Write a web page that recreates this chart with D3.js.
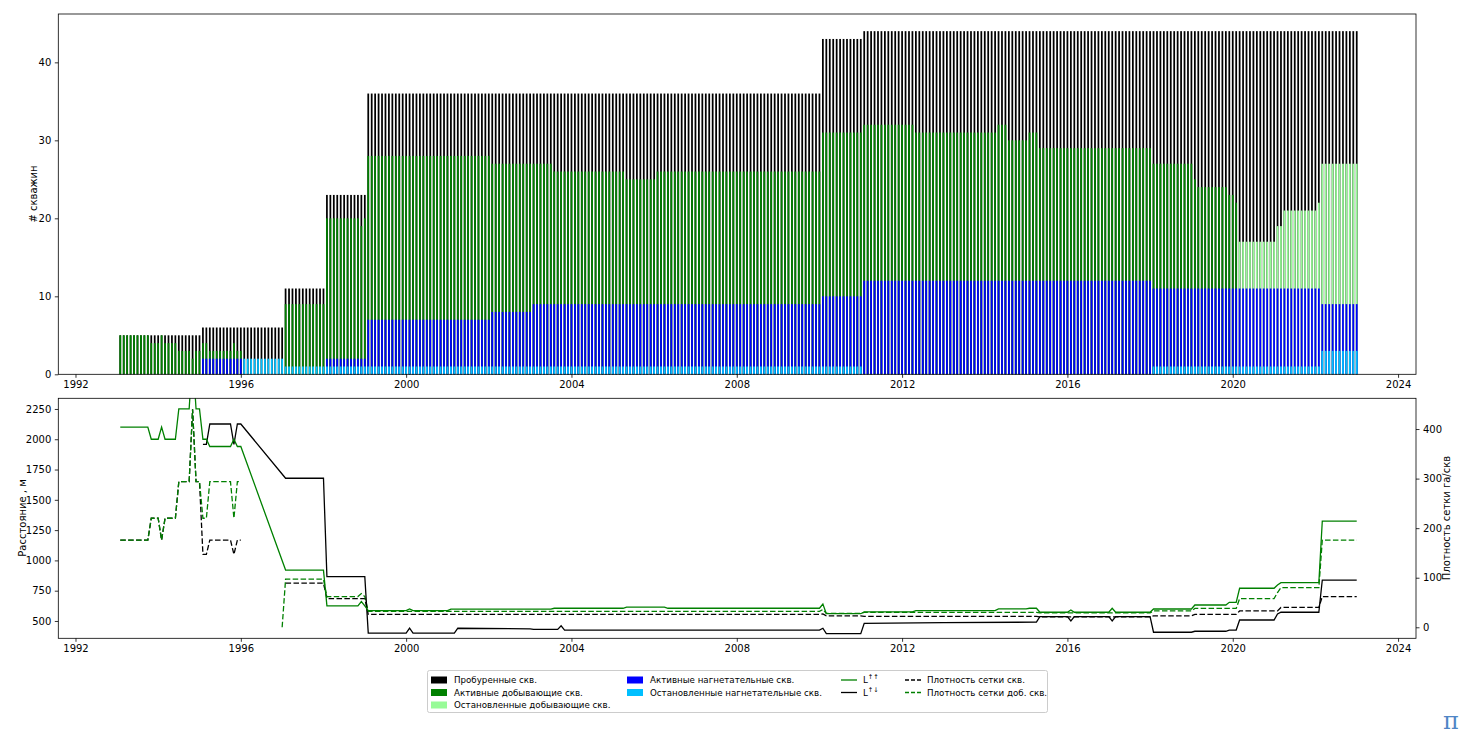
<!DOCTYPE html>
<html lang="en">
<head>
<meta charset="utf-8">
<script src="https://d3js.org/d3.v7.min.js"></script>
<style>
  body { margin: 0; background: #fff; }
  svg { font-family: "DejaVu Sans", sans-serif; }
</style>
</head>
<body>
<svg width="1468" height="743"></svg>
<script>
// ---- data: bar series as [month, value] step points (value holds until next step)
var drilled = [["1993-01", 5], ["1995-01", 6], ["1997-01", 11], ["1998-01", 23], ["1999-01", 36], ["2010-01", 43], ["2011-01", 44]];
var prodActive = [["1993-01", 5], ["1993-10", 4], ["1994-01", 5], ["1994-02", 4], ["1994-06", 3], ["1994-10", 2], ["1994-11", 3],
  ["1995-01", 4], ["1995-03", 3], ["1995-10", 4], ["1995-11", 3], ["1996-01", 0], ["1997-01", 9], ["1998-01", 20], ["1998-11", 19], ["1998-12", 20],
  ["1999-01", 28], ["2002-01", 27], ["2003-07", 26], ["2005-04", 25], ["2006-01", 26], ["2010-01", 31], ["2011-01", 32],
  ["2012-04", 31], ["2014-04", 32], ["2014-07", 30], ["2015-01", 31], ["2015-04", 29], ["2018-01", 27], ["2019-01", 25],
  ["2019-02", 24], ["2019-11", 23], ["2020-01", 22], ["2020-02", 0]];
var prodStopped = [["1993-01", 0], ["2020-02", 17], ["2021-01", 19], ["2021-03", 21], ["2022-01", 22], ["2022-02", 27]];
var injActive = [["1993-01", 0], ["1995-01", 2], ["1996-01", 0], ["1998-01", 2], ["1999-01", 7], ["2002-01", 8], ["2003-01", 9],
  ["2010-01", 10], ["2011-01", 12], ["2018-01", 11], ["2022-02", 9]];
var injStopped = [["1993-01", 0], ["1996-01", 2], ["1997-01", 1], ["2011-01", 0], ["2018-01", 1], ["2022-02", 3]];

// ---- data: lines as [month, value] vertices
var lSame = [["1993-01", 2100], ["1993-09", 2100], ["1993-10", 2000], ["1993-12", 2000], ["1994-01", 2100], ["1994-02", 2000],
  ["1994-05", 2000], ["1994-06", 2250], ["1994-09", 2250], ["1994-10", 2700], ["1994-11", 2250], ["1994-12", 2250],
  ["1995-01", 2000], ["1995-02", 2000], ["1995-03", 1940], ["1995-09", 1940], ["1995-10", 2000], ["1995-11", 1940],
  ["1995-12", 1940], ["1997-01", 920], ["1997-12", 920], ["1998-01", 625], ["1998-10", 625], ["1998-11", 660], ["1998-12", 625],
  ["1999-01", 585], ["1999-12", 585], ["2000-01", 600], ["2000-02", 585], ["2000-12", 585], ["2001-01", 598], ["2003-06", 598],
  ["2003-07", 605], ["2005-03", 605], ["2005-04", 615], ["2006-03", 615], ["2006-04", 605], ["2009-12", 605], ["2010-01", 640],
  ["2010-02", 560], ["2010-12", 560], ["2011-01", 575], ["2012-03", 575], ["2012-04", 585], ["2014-03", 585], ["2014-04", 600],
  ["2014-12", 600], ["2015-01", 605], ["2015-03", 605], ["2015-04", 572], ["2015-12", 572], ["2016-01", 590], ["2016-02", 572],
  ["2016-12", 572], ["2017-01", 605], ["2017-02", 572], ["2017-12", 572], ["2018-01", 599], ["2018-12", 599], ["2019-01", 632],
  ["2019-10", 632], ["2019-11", 654], ["2020-01", 654], ["2020-02", 770], ["2020-12", 770], ["2021-01", 797], ["2021-02", 816],
  ["2022-01", 816], ["2022-02", 1325], ["2022-12", 1325]];
var lOpp = [["1995-01", 1958], ["1995-02", 1958], ["1995-03", 2126], ["1995-09", 2126], ["1995-10", 1958], ["1995-11", 2126],
  ["1995-12", 2126], ["1997-01", 1678], ["1997-12", 1678], ["1998-01", 866], ["1998-12", 866], ["1999-01", 400], ["1999-12", 400],
  ["2000-01", 440], ["2000-02", 400], ["2001-02", 400], ["2001-03", 440], ["2002-12", 435], ["2003-01", 430], ["2003-08", 430],
  ["2003-09", 460], ["2003-10", 425], ["2009-12", 425], ["2010-01", 440], ["2010-02", 395], ["2010-12", 395], ["2011-01", 480],
  ["2012-12", 487], ["2015-03", 490], ["2015-04", 536], ["2015-12", 536], ["2016-01", 500], ["2016-02", 536], ["2016-12", 536],
  ["2017-01", 500], ["2017-02", 536], ["2017-12", 536], ["2018-01", 407], ["2018-12", 407], ["2019-01", 415], ["2019-10", 415],
  ["2019-11", 425], ["2020-01", 425], ["2020-02", 508], ["2020-12", 508], ["2021-01", 558], ["2021-02", 572], ["2022-01", 572],
  ["2022-02", 838], ["2022-12", 838]];
var densAll = [["1993-01", 176], ["1993-09", 176], ["1993-10", 220], ["1993-12", 220], ["1994-01", 176], ["1994-02", 220],
  ["1994-05", 220], ["1994-06", 294], ["1994-09", 294], ["1994-10", 440], ["1994-11", 294], ["1994-12", 294], ["1995-01", 147],
  ["1995-02", 147], ["1995-03", 176], ["1995-09", 176], ["1995-10", 147], ["1995-11", 176], ["1995-12", 176], null,
  ["1997-01", 89], ["1997-12", 89], ["1998-01", 58], ["1998-12", 58], ["1999-01", 26], ["2009-12", 26], ["2010-01", 27],
  ["2010-02", 23], ["2010-12", 23], ["2011-01", 22], ["2015-03", 22], ["2015-04", 21], ["2017-12", 21], ["2018-01", 23],
  ["2018-12", 23], ["2019-01", 26], ["2020-01", 26], ["2020-02", 33], ["2021-01", 33], ["2021-02", 40], ["2022-01", 40],
  ["2022-02", 62], ["2022-12", 62]];
var densProd = [["1993-01", 176], ["1993-09", 176], ["1993-10", 220], ["1993-12", 220], ["1994-01", 176], ["1994-02", 220],
  ["1994-05", 220], ["1994-06", 294], ["1994-09", 294], ["1994-10", 440], ["1994-11", 294], ["1994-12", 294], ["1995-01", 220],
  ["1995-02", 220], ["1995-03", 294], ["1995-09", 294], ["1995-10", 220], ["1995-11", 294], ["1995-12", 294], null,
  ["1996-12", 0], ["1997-01", 97], ["1997-12", 97], ["1998-01", 62], ["1998-10", 62], ["1998-11", 68], ["1998-12", 62],
  ["1999-01", 32], ["2009-12", 32], ["2010-01", 36], ["2010-02", 28], ["2010-12", 28], ["2011-01", 30], ["2015-03", 30],
  ["2015-04", 29], ["2017-12", 29], ["2018-01", 33], ["2018-12", 33], ["2019-01", 38], ["2020-01", 38], ["2020-02", 58],
  ["2020-12", 58], ["2021-01", 70], ["2021-02", 80], ["2022-01", 80], ["2022-02", 176], ["2022-12", 176]];

var yearTicks = [1992, 1996, 2000, 2004, 2008, 2012, 2016, 2020, 2024];
var countTicks = [0, 10, 20, 30, 40];
var distTicks = [500, 750, 1000, 1250, 1500, 1750, 2000, 2250];
var densTicks = [0, 100, 200, 300, 400];

// month "YYYY-MM" -> fractional year at month end
function mYear(s) { var p = s.split("-"); return +p[0] + (+p[1]) / 12; }

var months = [];
for (var yy = 1993; yy <= 2022; yy++) for (var mm = 1; mm <= 12; mm++) months.push(yy + "-" + (mm < 10 ? "0" : "") + mm);

function expand(steps) {
  return months.map(function(m) {
    var v = 0;
    steps.forEach(function(s) { if (mYear(s[0]) <= mYear(m) + 1e-6) v = s[1]; });
    return { m: m, v: v };
  });
}

var svg = d3.select("svg");
var L = 58.3, R = 1416;
var x = d3.scaleLinear().domain([1991.584, 2024.434]).range([L, R]);
var yTop = d3.scaleLinear().domain([0, 46.2]).range([374.3, 14]);
var yDist = d3.scaleLinear().domain([357, 2338]).range([638.3, 398.3]);
var yDens = d3.scaleLinear().domain([-22.2, 462]).range([638.3, 398.3]);

// ---- top: bars drawn over each other from zero
var barW = 1.75;
var series = [
  { data: drilled, color: "#000000" },
  { data: prodStopped, color: "#98fb98" },
  { data: prodActive, color: "#008000" },
  { data: injActive, color: "#0000ff" },
  { data: injStopped, color: "#00bfff" }
];
var gBars = svg.append("g");
series.forEach(function(s) {
  gBars.append("g").selectAll("rect")
    .data(expand(s.data).filter(function(d) { return d.v > 0; }))
    .enter().append("rect")
    .attr("x", function(d) { return x(mYear(d.m)) - barW / 2; })
    .attr("y", function(d) { return yTop(d.v); })
    .attr("width", barW)
    .attr("height", function(d) { return yTop(0) - yTop(d.v); })
    .attr("fill", s.color);
});

var fmt = d3.format("d");
svg.append("g").attr("transform", "translate(0,374.3)")
  .call(d3.axisBottom(x).tickValues(yearTicks).tickFormat(fmt).tickSize(3.5).tickPadding(3.5));
svg.append("g").attr("transform", "translate(" + L + ",0)")
  .call(d3.axisLeft(yTop).tickValues(countTicks).tickFormat(fmt).tickSize(3.5).tickPadding(3.5));
svg.append("rect").attr("x", L).attr("y", 14).attr("width", R - L).attr("height", 360.3)
  .attr("fill", "none").attr("stroke", "#000").attr("stroke-width", 0.8);

// ---- bottom: lines
svg.append("clipPath").attr("id", "clipB").append("rect")
  .attr("x", L).attr("y", 398.3).attr("width", R - L).attr("height", 240);
var gLines = svg.append("g").attr("clip-path", "url(#clipB)");
function drawLine(data, yScale, color, dashed) {
  var line = d3.line()
    .defined(function(d) { return d !== null; })
    .x(function(d) { return x(mYear(d[0])); })
    .y(function(d) { return yScale(d[1]); });
  gLines.append("path").datum(data)
    .attr("d", line)
    .attr("fill", "none")
    .attr("stroke", color)
    .attr("stroke-width", 1.3)
    .attr("stroke-dasharray", dashed ? "5.5,2.4" : null);
}
drawLine(densAll, yDens, "#000000", true);
drawLine(densProd, yDens, "#008000", true);
drawLine(lOpp, yDist, "#000000", false);
drawLine(lSame, yDist, "#008000", false);

svg.append("g").attr("transform", "translate(0,638.3)")
  .call(d3.axisBottom(x).tickValues(yearTicks).tickFormat(fmt).tickSize(3.5).tickPadding(3.5));
svg.append("g").attr("transform", "translate(" + L + ",0)")
  .call(d3.axisLeft(yDist).tickValues(distTicks).tickFormat(fmt).tickSize(3.5).tickPadding(3.5));
svg.append("g").attr("transform", "translate(" + R + ",0)")
  .call(d3.axisRight(yDens).tickValues(densTicks).tickFormat(fmt).tickSize(3.5).tickPadding(3.5));
svg.append("rect").attr("x", L).attr("y", 398.3).attr("width", R - L).attr("height", 240)
  .attr("fill", "none").attr("stroke", "#000").attr("stroke-width", 0.8);

svg.selectAll(".tick text").attr("font-size", 10).attr("fill", "#000").attr("font-family", "DejaVu Sans");
svg.selectAll(".tick line").attr("stroke", "#000").attr("stroke-width", 0.8);
svg.selectAll(".domain").remove();

// axis labels
function vLabel(text, cx, cy, rot) {
  svg.append("text").attr("transform", "translate(" + cx + "," + cy + ") rotate(" + rot + ")")
    .attr("text-anchor", "middle").attr("font-size", 10).text(text);
}
vLabel("# скважин", 37, 194, -90);
vLabel("Расстояние , м", 26, 518, -90);
vLabel("Плотность сетки га/скв", 1450, 518, -90);

// ---- legend
var leg = svg.append("g");
leg.append("rect").attr("x", 427.5).attr("y", 670.5).attr("width", 620).attr("height", 42)
  .attr("fill", "#fff").attr("stroke", "#ccc").attr("stroke-width", 1).attr("rx", 2);
var patchItems = [
  { t: "Пробуренные скв.", c: "#000000", x: 431, y: 680 },
  { t: "Активные добывающие скв.", c: "#008000", x: 431, y: 692.5 },
  { t: "Остановленные добывающие скв.", c: "#98fb98", x: 431, y: 705 },
  { t: "Активные нагнетательные скв.", c: "#0000ff", x: 627, y: 680 },
  { t: "Остановленные нагнетательные скв.", c: "#00bfff", x: 627, y: 692.5 }
];
patchItems.forEach(function(d) {
  leg.append("rect").attr("x", d.x).attr("y", d.y - 3.5).attr("width", 16).attr("height", 7).attr("fill", d.c);
  leg.append("text").attr("x", d.x + 23).attr("y", d.y + 3.3).attr("font-size", 8.7).text(d.t);
});
var lineItems = [
  { t: "L", sup: "↑↑", c: "#008000", dash: false, x: 841, y: 680 },
  { t: "L", sup: "↑↓", c: "#000000", dash: false, x: 841, y: 692.5 },
  { t: "Плотность сетки скв.", c: "#000000", dash: true, x: 905, y: 680 },
  { t: "Плотность сетки доб. скв.", c: "#008000", dash: true, x: 905, y: 692.5 }
];
lineItems.forEach(function(d) {
  leg.append("line").attr("x1", d.x).attr("x2", d.x + 16).attr("y1", d.y).attr("y2", d.y)
    .attr("stroke", d.c).attr("stroke-width", 1.3).attr("stroke-dasharray", d.dash ? "4,2" : null);
  var t = leg.append("text").attr("x", d.x + 22).attr("y", d.y + 3.3).attr("font-size", 8.7).text(d.t);
  if (d.sup) t.append("tspan").attr("dy", -4).attr("font-size", 6.5).text(d.sup);
});

// logo mark
svg.append("text").attr("x", 1451).attr("y", 729).attr("text-anchor", "middle")
  .attr("font-size", 24).attr("font-family", "DejaVu Serif").attr("fill", "#4f86c6").text("π");
</script>
</body>
</html>
